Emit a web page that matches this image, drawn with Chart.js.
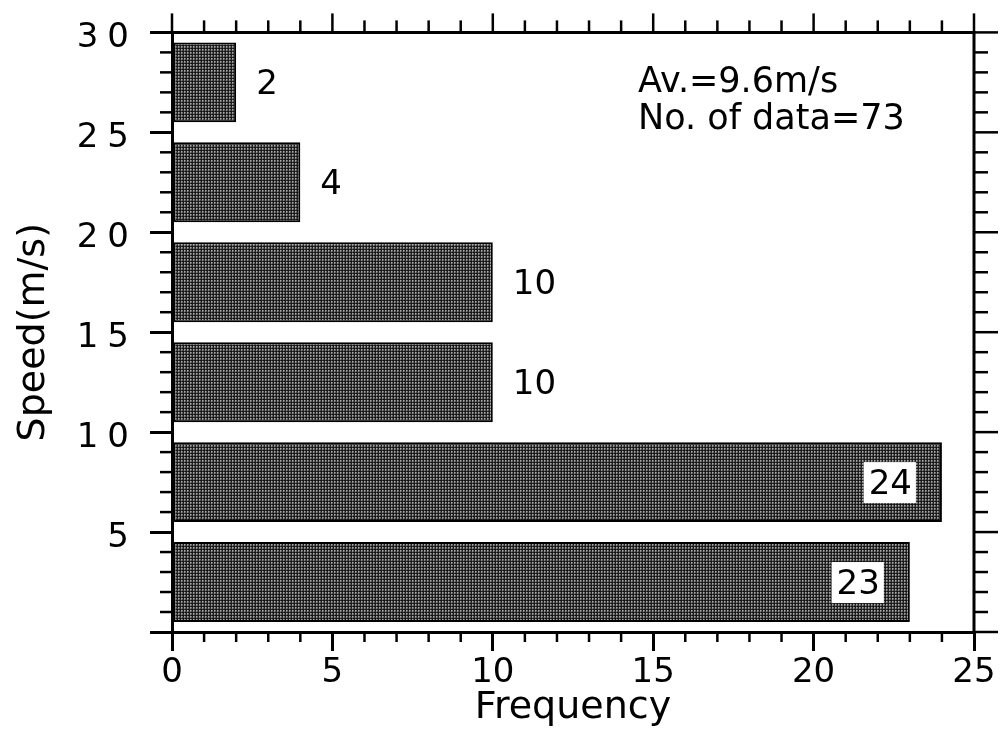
<!DOCTYPE html>
<html><head><meta charset="utf-8">
<script src="https://cdn.jsdelivr.net/npm/chart.js@4"></script>
<style>html,body{margin:0;padding:0;background:#fff}canvas{display:block}</style>
</head><body>
<canvas id="c" width="1001" height="743"></canvas>
<script>
// ---- data ----
const binStart = [0, 5, 10, 15, 20, 25];
const binEnd = [5, 10, 15, 20, 25, 30];
const frequency = [23, 24, 10, 10, 4, 2];
const xTickValues = [0, 5, 10, 15, 20, 25];
const yTickLabels = [5, 10, 15, 20, 25, 30];
const annotationLines = ['Av.=9.6m/s', 'No. of data=73'];
const xTitle = 'Frequency';
const yTitle = 'Speed(m/s)';

const FONT = '"DejaVu Sans", sans-serif';

function makePattern(ctx) {
  const c = document.createElement('canvas');
  c.width = 3; c.height = 3;
  const g = c.getContext('2d');
  const shades = [[20, 45, 20], [25, 170, 110], [45, 135, 80]];
  for (let r = 0; r < 3; r++) for (let k = 0; k < 3; k++) {
    const v = shades[r][k];
    g.fillStyle = `rgb(${v},${v},${v})`;
    g.fillRect(k, r, 1, 1);
  }
  return ctx.createPattern(c, 'repeat');
}

const canvas = document.getElementById('c');
const ctx0 = canvas.getContext('2d');
const points = frequency.map((f, i) => ({ x: f, y: (binStart[i] + binEnd[i]) / 2 }));

const framePlugin = {
  id: 'frame',
  afterDatasetsDraw(chart) {
    const { ctx, chartArea: a, scales: { x, y } } = chart;
    ctx.save();
    ctx.strokeStyle = '#000';
    ctx.lineCap = 'butt';
    const line = (x1, y1, x2, y2) => { ctx.beginPath(); ctx.moveTo(x1, y1); ctx.lineTo(x2, y2); ctx.stroke(); };
    // top & right frame
    ctx.lineWidth = 3;
    ctx.beginPath();
    ctx.moveTo(a.left - 1.5, a.top);
    ctx.lineTo(a.right, a.top);
    ctx.lineTo(a.right, a.bottom + 1.5);
    ctx.stroke();
    // ticks
    ctx.lineWidth = 2.5;
    for (let v = x.min; v <= x.max; v++) {
      const px = x.getPixelForValue(v);
      const major = v % 5 === 0;
      line(px, a.top, px, a.top - (major ? 19 : 12));
      if (!major) line(px, a.bottom, px, a.bottom + 10);
    }
    for (let v = y.min; v <= y.max; v++) {
      const py = y.getPixelForValue(v);
      const major = v % 5 === 0;
      line(a.right, py, a.right + (major ? 24 : 14), py);
      if (!major) line(a.left, py, a.left - 12, py);
    }
    // value labels
    const meta = chart.getDatasetMeta(0);
    ctx.font = '34px ' + FONT;
    ctx.textBaseline = 'middle';
    meta.data.forEach((bar, i) => {
      const text = String(frequency[i]);
      const w = ctx.measureText(text).width;
      if (a.right - bar.x < 80) {
        const right = bar.x - 30;
        ctx.fillStyle = '#fff';
        ctx.fillRect(right - w - 5, bar.y - 20, w + 9, 41);
        ctx.fillStyle = '#000';
        ctx.textAlign = 'right';
        ctx.fillText(text, right, bar.y + 3);
      } else {
        ctx.fillStyle = '#000';
        ctx.textAlign = 'left';
        ctx.fillText(text, bar.x + 20, bar.y + 3);
      }
    });
    // annotation
    ctx.font = '35px ' + FONT;
    ctx.textAlign = 'left';
    ctx.textBaseline = 'alphabetic';
    ctx.fillStyle = '#000';
    annotationLines.forEach((t, i) => ctx.fillText(t, a.left + 466, a.top + 60 + i * 37));
    ctx.restore();
    // y tick labels (drawn after datasets) get the wide spacing of the original
    ctx.letterSpacing = '9px';
  },
  afterDraw(chart) {
    chart.ctx.letterSpacing = '0px';
  }
};

new Chart(canvas, {
  type: 'bar',
  data: {
    datasets: [{
      data: points,
      backgroundColor: makePattern(ctx0),
      borderColor: '#000',
      borderWidth: 2,
      borderSkipped: false,
      barPercentage: 0.8,
      categoryPercentage: 1.0
    }]
  },
  options: {
    indexAxis: 'y',
    responsive: false,
    animation: false,
    devicePixelRatio: 1,
    layout: { padding: { top: 30, right: 27, left: 0, bottom: 0 } },
    plugins: { legend: { display: false }, tooltip: { enabled: false } },
    scales: {
      x: {
        type: 'linear',
        position: 'bottom',
        min: 0, max: 25,
        offset: false,
        afterFit: (s) => { s.height = 111; },
        afterBuildTicks: (s) => { s.ticks = xTickValues.map(v => ({ value: v })); },
        ticks: { color: '#000', font: { family: FONT, size: 34 }, padding: 2, maxRotation: 0, autoSkip: false },
        grid: { offset: false, drawOnChartArea: false, color: '#000', lineWidth: 3, tickLength: 19, tickWidth: 3 },
        border: { display: true, color: '#000', width: 3 },
        title: { display: true, text: xTitle, color: '#000', font: { family: FONT, size: 38 }, padding: { top: 0, bottom: 12 } }
      },
      y: {
        type: 'linear',
        position: 'left',
        min: 0, max: 30,
        offset: false,
        afterFit: (s) => { s.width = 172; },
        afterBuildTicks: (s) => { s.ticks = [0].concat(yTickLabels).map(v => ({ value: v })); },
        ticks: {
          color: '#000', font: { family: FONT, size: 34 }, padding: 12, labelOffset: 6, z: 1, autoSkip: false,
          callback: (v) => yTickLabels.includes(v) ? String(v) : ''
        },
        grid: { offset: false, drawOnChartArea: false, color: '#000', lineWidth: 3, tickLength: 22, tickWidth: 3 },
        border: { display: true, color: '#000', width: 3 },
        title: { display: true, text: yTitle, color: '#000', font: { family: FONT, size: 38 }, padding: { top: 11, bottom: 0 } }
      }
    }
  },
  plugins: [framePlugin]
});
</script>
</body></html>
